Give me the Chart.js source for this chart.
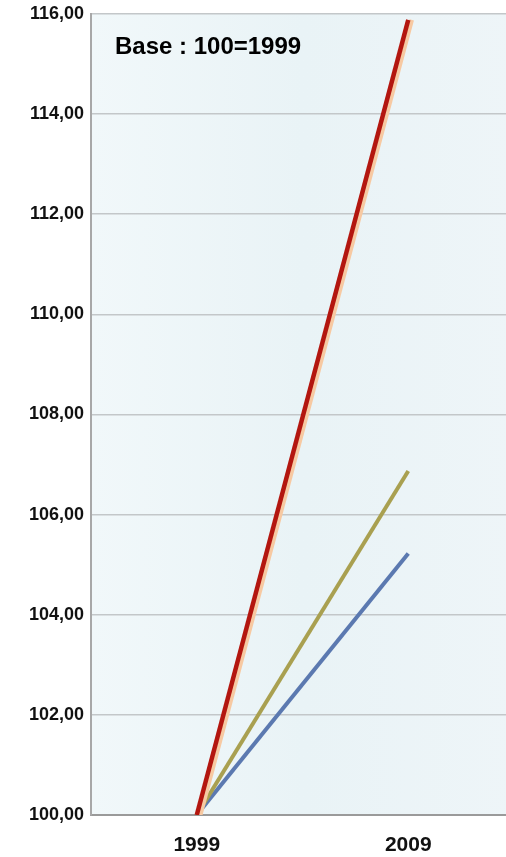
<!DOCTYPE html>
<html>
<head>
<meta charset="utf-8">
<script src="https://cdn.jsdelivr.net/npm/chart.js@4/dist/chart.umd.min.js"></script>
<style>
html,body{margin:0;padding:0;background:#fff;overflow:hidden;}
#outer{width:506px;height:857px;position:relative;overflow:hidden;}
#wrap{width:514px;height:861px;position:absolute;left:0;top:-4px;}
</style>
</head>
<body>
<div id="outer"><div id="wrap"><canvas id="c"></canvas></div></div>
<script>
const categories = ["1999", "2009"];
const seriesRed = [100, 115.88];
const seriesOlive = [100, 106.87];
const seriesBlue = [100, 105.22];
const yTicks = [100, 102, 104, 106, 108, 110, 112, 114, 116];
const baseLabel = "Base : 100=1999";

const bgPlugin = {
  id: 'bg',
  beforeDraw(chart) {
    const {ctx, chartArea: a} = chart;
    const g = ctx.createLinearGradient(a.left, 0, a.right, 0);
    g.addColorStop(0, '#f1f8fa');
    g.addColorStop(0.5, '#e9f3f6');
    g.addColorStop(1, '#eef5f8');
    ctx.save();
    ctx.fillStyle = g;
    ctx.fillRect(a.left, a.top, a.right - a.left, a.bottom - a.top);
    ctx.restore();
  },
  beforeDatasetDraw(chart, args) {
    const ctx = chart.ctx;
    ctx.save();
    if (args.index === 0) {
      ctx.shadowColor = '#f7c9a2';
      ctx.shadowOffsetX = 3.5;
      ctx.shadowOffsetY = 0;
      ctx.shadowBlur = 0;
    }
  },
  afterDatasetDraw(chart) {
    chart.ctx.restore();
  },
  afterDraw(chart) {
    const {ctx, chartArea: a} = chart;
    ctx.save();
    ctx.fillStyle = '#000';
    ctx.font = 'bold 24px "Liberation Sans", Arial, sans-serif';
    ctx.textBaseline = 'middle';
    ctx.fillText(baseLabel, a.left + 24, a.top + 34);
    ctx.restore();
  }
};

new Chart(document.getElementById('c'), {
  type: 'line',
  data: {
    labels: categories,
    datasets: [
      {label: 'Rouge', data: seriesRed, borderColor: '#b3160f', borderWidth: 4.5, pointRadius: 0, tension: 0, order: 0},
      {label: 'Olive', data: seriesOlive, borderColor: '#a9a050', borderWidth: 4, pointRadius: 0, tension: 0, order: 1},
      {label: 'Bleu', data: seriesBlue, borderColor: '#5b79b0', borderWidth: 4, pointRadius: 0, tension: 0, order: 2}
    ]
  },
  options: {
    responsive: true,
    maintainAspectRatio: false,
    animation: false,
    layout: {padding: {top: 1, right: 0, left: 0, bottom: 0}},
    plugins: {legend: {display: false}, tooltip: {enabled: false}},
    scales: {
      x: {
        offset: true,
        grid: {display: false},
        border: {display: true, color: '#9a9a9a', width: 2},
        afterFit(axis) { axis.height = 42; },
        ticks: {color: '#111', font: {family: '"Liberation Sans", Arial, sans-serif', size: 21, weight: 'bold'}, padding: 10}
      },
      y: {
        min: 100, max: 116,
        afterBuildTicks(axis) { axis.ticks = yTicks.map(v => ({value: v})); },
        afterFit(axis) { axis.width = 91; },
        grid: {color: '#c3c7c9', lineWidth: 1.5, drawTicks: false},
        border: {display: true, color: '#a8a8a8', width: 2},
        ticks: {
          color: '#111',
          padding: 7,
          font: {family: '"Liberation Sans", Arial, sans-serif', size: 18, weight: 'bold'},
          callback: v => v.toFixed(2).replace('.', ',')
        }
      }
    }
  },
  plugins: [bgPlugin]
});
</script>
</body>
</html>
